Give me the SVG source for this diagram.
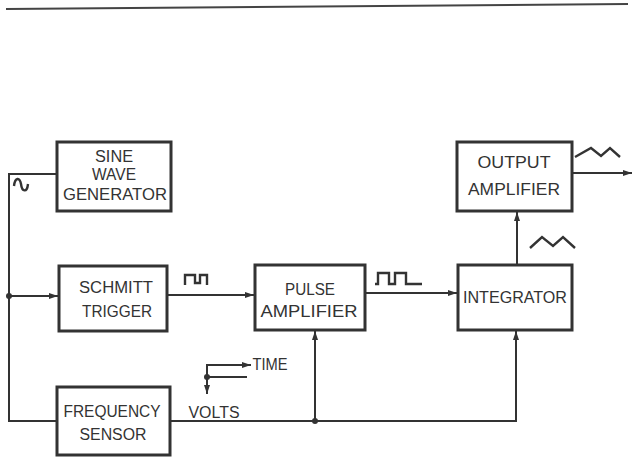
<svg xmlns="http://www.w3.org/2000/svg" width="635" height="457" viewBox="0 0 635 457">
<defs>
<style>
.box{fill:#fff;stroke:#333;stroke-width:3}
.w{fill:none;stroke:#333;stroke-width:2}
.sym{fill:none;stroke:#333;stroke-width:2.4;stroke-linejoin:miter}
.t{font-family:"Liberation Sans",Arial,sans-serif;font-size:16px;fill:#333;text-anchor:middle}
</style>
<marker id="ah" markerWidth="10" markerHeight="8" refX="9" refY="4" orient="auto" markerUnits="userSpaceOnUse">
<path d="M0,1 L9,4 L0,7 Z" fill="#333"/>
</marker>
</defs>
<rect width="635" height="457" fill="#fff"/>
<line x1="6" y1="9" x2="628" y2="4" stroke="#444" stroke-width="2"/>
<g id="connectors">
<path class="w" d="M57,174 H9 V421 H57"/>
<path class="w" d="M9,296 H58" marker-end="url(#ah)"/>
<path class="w" d="M167,295 H254" marker-end="url(#ah)"/>
<path class="w" d="M365,293 H457" marker-end="url(#ah)"/>
<path class="w" d="M517,265 V212" marker-end="url(#ah)"/>
<path class="w" d="M572,173 H632" marker-end="url(#ah)"/>
<path class="w" d="M170,421 H516 V331" marker-end="url(#ah)"/>
<path class="w" d="M315,421 V331" marker-end="url(#ah)"/>
<circle cx="9" cy="296" r="3" fill="#333"/>
<circle cx="315" cy="421" r="3" fill="#333"/>
<path class="sym" d="M14,186 C15,177 20,177 21,184 C22,192 27,193 28,184"/>
<path class="sym" d="M185,285 V275 H195 V283 H200 V275 H207 V285"/>
<path class="sym" d="M375,284 H378 V273 H389 V284 H395 V273 H406 V284 H422"/>
<polyline class="sym" points="575,157 591,148 601,156 610,148 620,157"/>
<polyline class="sym" points="530,248 542,237 553,246 563,237 575,248"/>
</g>
<g id="axes">
<path class="w" d="M207,377 V394" marker-end="url(#ah)"/>
<path class="w" d="M207,377 V365 H251" marker-end="url(#ah)"/>
<path class="w" d="M207,377 H247"/>
<circle cx="207" cy="377" r="3" fill="#333"/>
<text class="t" x="270" y="370" textLength="35" lengthAdjust="spacingAndGlyphs">TIME</text>
<text class="t" x="214" y="418" textLength="51" lengthAdjust="spacingAndGlyphs">VOLTS</text>
</g>
<g id="sine-wave-generator">
<rect class="box" x="57" y="142" width="114" height="69"/>
<text class="t" x="114" y="162" textLength="38" lengthAdjust="spacingAndGlyphs">SINE</text>
<text class="t" x="114" y="180" textLength="44" lengthAdjust="spacingAndGlyphs">WAVE</text>
<text class="t" x="115" y="200" textLength="104" lengthAdjust="spacingAndGlyphs">GENERATOR</text>
</g>
<g id="schmitt-trigger">
<rect class="box" x="59" y="266" width="108" height="65"/>
<text class="t" x="116" y="293" textLength="74" lengthAdjust="spacingAndGlyphs">SCHMITT</text>
<text class="t" x="117" y="317" textLength="70" lengthAdjust="spacingAndGlyphs">TRIGGER</text>
</g>
<g id="pulse-amplifier">
<rect class="box" x="255" y="265" width="110" height="65"/>
<text class="t" x="310" y="295" textLength="50" lengthAdjust="spacingAndGlyphs">PULSE</text>
<text class="t" x="309" y="317" textLength="97" lengthAdjust="spacingAndGlyphs">AMPLIFIER</text>
</g>
<g id="integrator">
<rect class="box" x="458" y="265" width="114" height="65"/>
<text class="t" x="515" y="303" textLength="104" lengthAdjust="spacingAndGlyphs">INTEGRATOR</text>
</g>
<g id="output-amplifier">
<rect class="box" x="457" y="142" width="115" height="69"/>
<text class="t" x="514" y="168" textLength="73" lengthAdjust="spacingAndGlyphs">OUTPUT</text>
<text class="t" x="514" y="195" textLength="92" lengthAdjust="spacingAndGlyphs">AMPLIFIER</text>
</g>
<g id="frequency-sensor">
<rect class="box" x="57" y="387" width="113" height="68"/>
<text class="t" x="112" y="417" textLength="97" lengthAdjust="spacingAndGlyphs">FREQUENCY</text>
<text class="t" x="113" y="440" textLength="67" lengthAdjust="spacingAndGlyphs">SENSOR</text>
</g>
</svg>
